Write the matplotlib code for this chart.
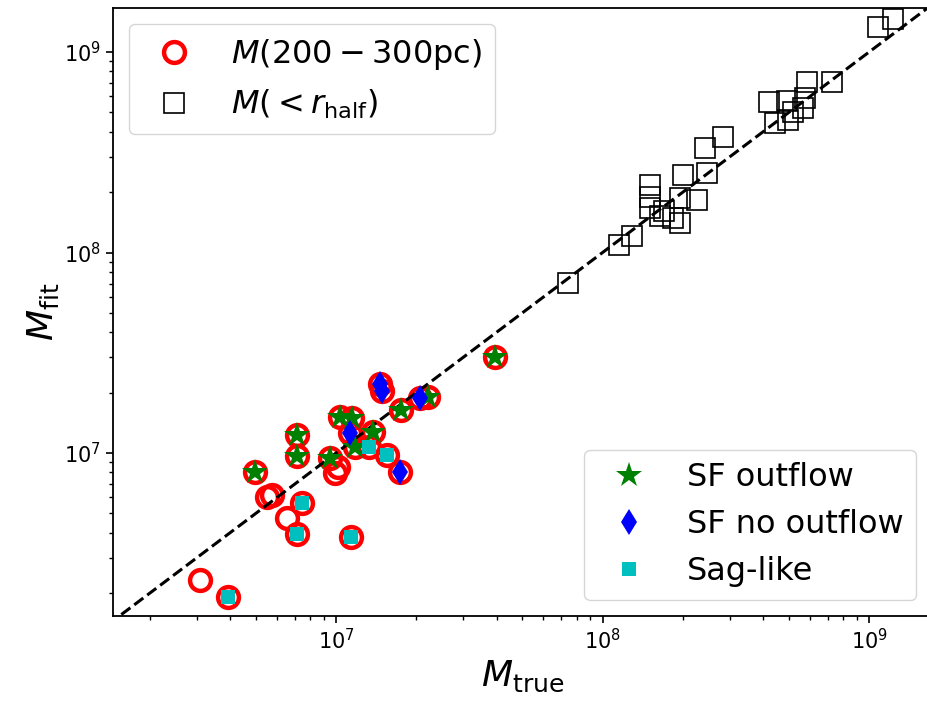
import numpy as np
import matplotlib.pyplot as plt

# mass within 200-300 pc, split by galaxy type (true, fit)
sf_out_true = [3.95e7, 2.21e7, 1.75e7, 1.035e7, 1.15e7, 1.38e7, 1.18e7, 7.14e6, 7.14e6, 4.97e6, 9.5e6]
sf_out_fit = [3.02e7, 1.90e7, 1.64e7, 1.51e7, 1.50e7, 1.27e7, 1.07e7, 1.23e7, 9.66e6, 8.04e6, 9.44e6]

sf_noout_true = [1.46e7, 1.49e7, 2.07e7, 1.13e7, 1.74e7]
sf_noout_fit = [2.21e7, 2.04e7, 1.88e7, 1.26e7, 8.04e6]

sag_true = [1.33e7, 1.55e7, 7.45e6, 7.14e6, 1.14e7, 3.94e6]
sag_fit = [1.07e7, 9.8e6, 5.64e6, 3.95e6, 3.81e6, 1.91e6]

other_true = [1.02e7, 9.9e6, 5.5e6, 5.75e6, 6.55e6, 3.09e6]
other_fit = [8.51e6, 7.95e6, 6.04e6, 6.18e6, 4.74e6, 2.33e6]

# mass within the half-light radius
half_true = [7.42e7, 1.15e8, 1.29e8, 1.51e8, 1.51e8, 1.51e8, 1.64e8, 1.70e8, 1.84e8,
             1.95e8, 1.95e8, 2.26e8, 2.00e8, 2.47e8, 2.42e8, 2.83e8, 4.22e8, 4.93e8,
             5.75e8, 4.45e8, 4.98e8, 5.20e8, 5.66e8, 5.85e8, 7.26e8, 1.08e9, 1.23e9]
half_fit = [7.05e7, 1.09e8, 1.21e8, 2.17e8, 1.89e8, 1.67e8, 1.52e8, 1.61e8, 1.49e8,
            1.40e8, 1.87e8, 1.83e8, 2.44e8, 2.49e8, 3.32e8, 3.77e8, 5.64e8, 5.70e8,
            5.90e8, 4.43e8, 4.58e8, 5.02e8, 5.26e8, 7.08e8, 7.08e8, 1.33e9, 1.46e9]

m200_true = sf_out_true + sf_noout_true + sag_true + other_true
m200_fit = sf_out_fit + sf_noout_fit + sag_fit + other_fit

fig = plt.figure(figsize=(9.28, 7.04), dpi=100)
ax = fig.add_axes([113/928, 1-616/704, (932-113)/928, (616-8)/704])

c1, = ax.plot(m200_true, m200_fit, 'o', mfc='none', mec='r', ms=15, mew=3.2, zorder=2)
s1, = ax.plot(half_true, half_fit, 's', mfc='none', mec='k', ms=15, mew=1.2, zorder=2)

ax.plot([1e6, 1e10], [1e6, 1e10], 'k--', lw=2.2, zorder=3)

p1, = ax.plot(sf_out_true, sf_out_fit, '*', color='g', ms=19, mew=0, zorder=4)
p2, = ax.plot(sf_noout_true, sf_noout_fit, 'd', color='b', ms=13, mew=0, zorder=4)
p3, = ax.plot(sag_true, sag_fit, 's', color='c', ms=10, mew=0, zorder=4)

ax.set_xscale('log')
ax.set_yscale('log')
ax.set_xlim(10**6.163, 10**9.236)
ax.set_ylim(10**6.187, 10**9.2195)

ax.set_xlabel(r'$M_{\rm true}$', fontsize=26)
ax.set_ylabel(r'$M_{\rm fit}$', fontsize=26, labelpad=2)
ax.tick_params(which='major', labelsize=15, length=5, width=1.2)
ax.tick_params(which='minor', length=3, width=1)
for sp in ax.spines.values():
    sp.set_linewidth(1.3)

leg1 = ax.legend([c1, s1], [r'$M(200-300{\rm pc})$', r'$M(<r_{\rm half})$'],
                 loc='upper left', fontsize=23)
ax.add_artist(leg1)
ax.legend([p1, p2, p3], ['SF outflow', 'SF no outflow', 'Sag-like'],
          loc='lower right', fontsize=23)

fig.savefig('out.png', dpi=100)
